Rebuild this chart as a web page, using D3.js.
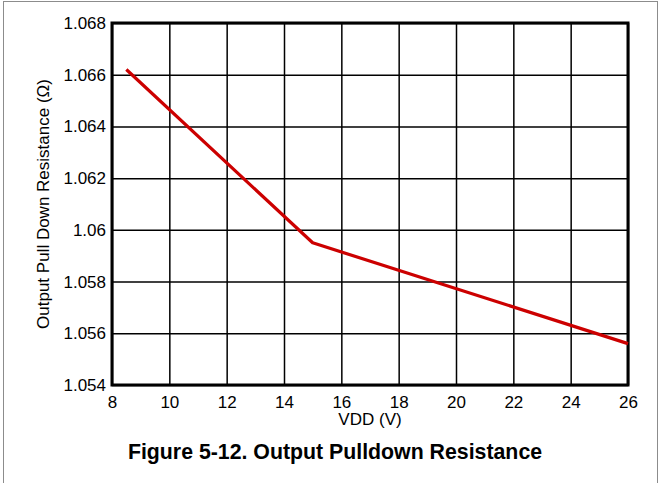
<!DOCTYPE html>
<html>
<head>
<meta charset="utf-8">
<script src="https://cdn.jsdelivr.net/npm/d3@7"></script>
<style>
  html, body { margin: 0; padding: 0; background: #fff; }
  svg { display: block; }
  text { font-family: "Liberation Sans", Arial, sans-serif; fill: #000; }
</style>
</head>
<body>
<svg id="chart" width="662" height="483"></svg>
<script>
// Data
const vdd = [8.5, 15, 26];
const resistance = [1.0662, 1.0595, 1.0556];
const xTicks = [8, 10, 12, 14, 16, 18, 20, 22, 24, 26];
const yTicks = [1.054, 1.056, 1.058, 1.06, 1.062, 1.064, 1.066, 1.068];
const xLabel = "VDD (V)";
const yLabel = "Output Pull Down Resistance (Ω)";
const title = "Figure 5-12. Output Pulldown Resistance";

const svg = d3.select("#chart");
const m = { left: 112, right: 628, top: 23, bottom: 385 };

// outer frame
svg.append("rect")
  .attr("x", 3.5).attr("y", 1.5)
  .attr("width", 654).attr("height", 495)
  .attr("fill", "none").attr("stroke", "#8c8c8c").attr("stroke-width", 1);

const x = d3.scaleLinear().domain([8, 26]).range([m.left, m.right]);
const y = d3.scaleLinear().domain([1.054, 1.068]).range([m.bottom, m.top]);

// grid + x tick labels
const gx = svg.append("g").attr("transform", `translate(0,${m.bottom})`)
  .call(d3.axisBottom(x).tickValues(xTicks).tickSize(-(m.bottom - m.top)).tickFormat(d => d3.format("d")(d)).tickPadding(11));
gx.select(".domain").remove();
gx.selectAll(".tick line").attr("stroke", "#000").attr("stroke-width", 1.5);
gx.selectAll(".tick text").attr("font-size", 17).attr("font-family", "Liberation Sans, Arial, sans-serif");

// grid + y tick labels
const gy = svg.append("g").attr("transform", `translate(${m.left},0)`)
  .call(d3.axisLeft(y).tickValues(yTicks).tickSize(-(m.right - m.left)).tickFormat(d => String(+d.toFixed(3))).tickPadding(6));
gy.select(".domain").remove();
gy.selectAll(".tick line").attr("stroke", "#000").attr("stroke-width", 1.5);
gy.selectAll(".tick text").attr("font-size", 17).attr("font-family", "Liberation Sans, Arial, sans-serif");

// plot frame
svg.append("rect")
  .attr("x", m.left).attr("y", m.top)
  .attr("width", m.right - m.left).attr("height", m.bottom - m.top)
  .attr("fill", "none").attr("stroke", "#000").attr("stroke-width", 3);

// line
const pts = vdd.map((v, i) => [v, resistance[i]]);
svg.append("path")
  .datum(pts)
  .attr("fill", "none")
  .attr("stroke", "#cc0000")
  .attr("stroke-width", 3.2)
  .attr("stroke-linejoin", "round")
  .attr("d", d3.line().x(d => x(d[0])).y(d => y(d[1])));

// axis titles
svg.append("text")
  .attr("x", (m.left + m.right) / 2).attr("y", 425)
  .attr("text-anchor", "middle").attr("font-size", 17)
  .text(xLabel);

svg.append("text")
  .attr("transform", `translate(49,${(m.top + m.bottom) / 2}) rotate(-90)`)
  .attr("text-anchor", "middle").attr("font-size", 17)
  .text(yLabel);

svg.append("text")
  .attr("x", 335).attr("y", 459)
  .attr("text-anchor", "middle").attr("font-size", 21.3).attr("font-weight", "bold")
  .text(title);
</script>
</body>
</html>
